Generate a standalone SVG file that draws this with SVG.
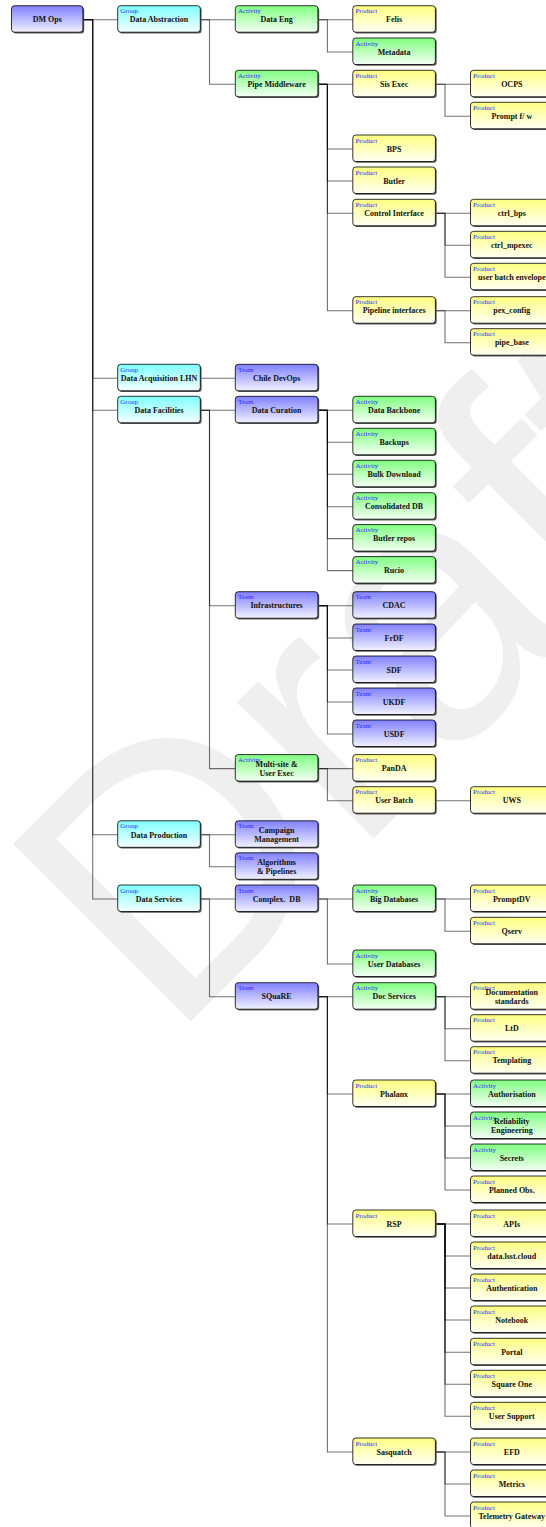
<svg xmlns="http://www.w3.org/2000/svg" width="546" height="1527" viewBox="0 0 546 1527">
<defs>
<linearGradient id="gT" x1="0" y1="0" x2="0" y2="1"><stop offset="0" stop-color="#7f7fff"/><stop offset="1" stop-color="#f2f2ff"/></linearGradient>
<linearGradient id="gG" x1="0" y1="0" x2="0" y2="1"><stop offset="0" stop-color="#80ffff"/><stop offset="1" stop-color="#f4ffff"/></linearGradient>
<linearGradient id="gA" x1="0" y1="0" x2="0" y2="1"><stop offset="0" stop-color="#80ff80"/><stop offset="1" stop-color="#f4fff4"/></linearGradient>
<linearGradient id="gP" x1="0" y1="0" x2="0" y2="1"><stop offset="0" stop-color="#ffff80"/><stop offset="1" stop-color="#fffff4"/></linearGradient>
</defs>
<style>
.sh{fill:#5a5a5a}
.bx{stroke:#000;stroke-width:0.8}
.T{fill:url(#gT)} .G{fill:url(#gG)} .A{fill:url(#gA)} .P{fill:url(#gP)}
.t{font-family:"Liberation Serif","Times New Roman",serif;font-size:7px;fill:#2b2bff}
.l{font-family:"Liberation Serif","Times New Roman",serif;font-weight:bold;font-size:8px;fill:#111;text-anchor:middle}
.e{fill:none;stroke:#000;stroke-opacity:0.55;stroke-width:1.1}
.wm{font-family:"Liberation Sans",Arial,sans-serif;font-size:365px;fill:#efefef}
</style>
<text class="wm" transform="translate(169.5,1042.5) rotate(-45)">Draft</text>
<g id="connectors">
<path class="e" d="M83,19.7H92.7V19.7H117.7"/>
<path class="e" d="M83,19.7H92.7V378.3H117.7"/>
<path class="e" d="M83,19.7H92.7V410.3H117.7"/>
<path class="e" d="M83,19.7H92.7V834.8H117.7"/>
<path class="e" d="M83,19.7H92.7V899H117.7"/>
<path class="e" d="M200.3,19.7H209.5V19.7H235.3"/>
<path class="e" d="M200.3,19.7H209.5V84.3H235.3"/>
<path class="e" d="M200.3,378.3H209.5V378.3H235.3"/>
<path class="e" d="M200.3,410.3H209.5V410.3H235.3"/>
<path class="e" d="M200.3,410.3H209.5V605.7H235.3"/>
<path class="e" d="M200.3,410.3H209.5V768.6H235.3"/>
<path class="e" d="M200.3,834.8H209.5V834.8H235.3"/>
<path class="e" d="M200.3,834.8H209.5V866.8H235.3"/>
<path class="e" d="M200.3,899H209.5V899H235.3"/>
<path class="e" d="M200.3,899H209.5V996.7H235.3"/>
<path class="e" d="M318,19.7H327.4V19.7H352.8"/>
<path class="e" d="M318,19.7H327.4V52H352.8"/>
<path class="e" d="M318,84.3H327.4V84.3H352.8"/>
<path class="e" d="M318,84.3H327.4V149H352.8"/>
<path class="e" d="M318,84.3H327.4V181H352.8"/>
<path class="e" d="M318,84.3H327.4V213.3H352.8"/>
<path class="e" d="M318,84.3H327.4V310.7H352.8"/>
<path class="e" d="M318,410.3H327.4V410.3H352.8"/>
<path class="e" d="M318,410.3H327.4V442.3H352.8"/>
<path class="e" d="M318,410.3H327.4V474.3H352.8"/>
<path class="e" d="M318,410.3H327.4V506.7H352.8"/>
<path class="e" d="M318,410.3H327.4V538.6H352.8"/>
<path class="e" d="M318,410.3H327.4V570.6H352.8"/>
<path class="e" d="M318,605.7H327.4V605.7H352.8"/>
<path class="e" d="M318,605.7H327.4V638H352.8"/>
<path class="e" d="M318,605.7H327.4V670H352.8"/>
<path class="e" d="M318,605.7H327.4V702H352.8"/>
<path class="e" d="M318,605.7H327.4V734H352.8"/>
<path class="e" d="M318,768.6H327.4V768.6H352.8"/>
<path class="e" d="M318,768.6H327.4V800.7H352.8"/>
<path class="e" d="M318,899H327.4V899H352.8"/>
<path class="e" d="M318,899H327.4V964H352.8"/>
<path class="e" d="M318,996.7H327.4V996.7H352.8"/>
<path class="e" d="M318,996.7H327.4V1094H352.8"/>
<path class="e" d="M318,996.7H327.4V1224H352.8"/>
<path class="e" d="M318,996.7H327.4V1452H352.8"/>
<path class="e" d="M435.4,84.3H445V84.3H470.5"/>
<path class="e" d="M435.4,84.3H445V116.3H470.5"/>
<path class="e" d="M435.4,213.3H445V213.3H470.5"/>
<path class="e" d="M435.4,213.3H445V245.3H470.5"/>
<path class="e" d="M435.4,213.3H445V277.3H470.5"/>
<path class="e" d="M435.4,310.7H445V310.7H470.5"/>
<path class="e" d="M435.4,310.7H445V342.7H470.5"/>
<path class="e" d="M435.4,800.7H445V800.7H470.5"/>
<path class="e" d="M435.4,899H445V899H470.5"/>
<path class="e" d="M435.4,899H445V931.3H470.5"/>
<path class="e" d="M435.4,996.7H445V996.7H470.5"/>
<path class="e" d="M435.4,996.7H445V1028.7H470.5"/>
<path class="e" d="M435.4,996.7H445V1060.7H470.5"/>
<path class="e" d="M435.4,1094H445V1094H470.5"/>
<path class="e" d="M435.4,1094H445V1126H470.5"/>
<path class="e" d="M435.4,1094H445V1158H470.5"/>
<path class="e" d="M435.4,1094H445V1190H470.5"/>
<path class="e" d="M435.4,1224H445V1224H470.5"/>
<path class="e" d="M435.4,1224H445V1256H470.5"/>
<path class="e" d="M435.4,1224H445V1288H470.5"/>
<path class="e" d="M435.4,1224H445V1320H470.5"/>
<path class="e" d="M435.4,1224H445V1352.3H470.5"/>
<path class="e" d="M435.4,1224H445V1384.3H470.5"/>
<path class="e" d="M435.4,1224H445V1416.3H470.5"/>
<path class="e" d="M435.4,1452H445V1452H470.5"/>
<path class="e" d="M435.4,1452H445V1484H470.5"/>
<path class="e" d="M435.4,1452H445V1516H470.5"/>
</g>
<g id="n-dmops"><rect class="sh" x="12.8" y="7" width="71.4" height="26.5" rx="3"/><rect class="bx T" x="11.5" y="5.7" width="71.4" height="26.5" rx="3"/><text class="l" x="47.2" y="22.4">DM Ops</text></g>
<g id="n-data-abstraction"><rect class="sh" x="119" y="7" width="82.6" height="26.5" rx="3"/><rect class="bx G" x="117.7" y="5.7" width="82.6" height="26.5" rx="3"/><text class="t" x="120.3" y="13.2">Group</text><text class="l" x="159" y="22.4">Data Abstraction</text></g>
<g id="n-data-eng"><rect class="sh" x="236.6" y="7" width="82.6" height="26.5" rx="3"/><rect class="bx A" x="235.3" y="5.7" width="82.6" height="26.5" rx="3"/><text class="t" x="237.9" y="13.2">Activity</text><text class="l" x="276.6" y="22.4">Data Eng</text></g>
<g id="n-felis"><rect class="sh" x="354.1" y="7" width="82.6" height="26.5" rx="3"/><rect class="bx P" x="352.8" y="5.7" width="82.6" height="26.5" rx="3"/><text class="t" x="355.4" y="13.2">Product</text><text class="l" x="394.1" y="22.4">Felis</text></g>
<g id="n-metadata"><rect class="sh" x="354.1" y="39.3" width="82.6" height="26.5" rx="3"/><rect class="bx A" x="352.8" y="38" width="82.6" height="26.5" rx="3"/><text class="t" x="355.4" y="45.5">Activity</text><text class="l" x="394.1" y="54.7">Metadata</text></g>
<g id="n-pipe-middleware"><rect class="sh" x="236.6" y="71.6" width="82.6" height="26.5" rx="3"/><rect class="bx A" x="235.3" y="70.3" width="82.6" height="26.5" rx="3"/><text class="t" x="237.9" y="77.8">Activity</text><text class="l" x="276.6" y="87">Pipe Middleware</text></g>
<g id="n-sis-exec"><rect class="sh" x="354.1" y="71.6" width="82.6" height="26.5" rx="3"/><rect class="bx P" x="352.8" y="70.3" width="82.6" height="26.5" rx="3"/><text class="t" x="355.4" y="77.8">Product</text><text class="l" x="394.1" y="87">Sis Exec</text></g>
<g id="n-ocps"><rect class="sh" x="471.8" y="71.6" width="82.6" height="26.5" rx="3"/><rect class="bx P" x="470.5" y="70.3" width="82.6" height="26.5" rx="3"/><text class="t" x="473.1" y="77.8">Product</text><text class="l" x="511.8" y="87">OCPS</text></g>
<g id="n-prompt-fw"><rect class="sh" x="471.8" y="103.6" width="82.6" height="26.5" rx="3"/><rect class="bx P" x="470.5" y="102.3" width="82.6" height="26.5" rx="3"/><text class="t" x="473.1" y="109.8">Product</text><text class="l" x="511.8" y="119">Prompt f/ w</text></g>
<g id="n-bps"><rect class="sh" x="354.1" y="136.3" width="82.6" height="26.5" rx="3"/><rect class="bx P" x="352.8" y="135" width="82.6" height="26.5" rx="3"/><text class="t" x="355.4" y="142.5">Product</text><text class="l" x="394.1" y="151.7">BPS</text></g>
<g id="n-butler"><rect class="sh" x="354.1" y="168.3" width="82.6" height="26.5" rx="3"/><rect class="bx P" x="352.8" y="167" width="82.6" height="26.5" rx="3"/><text class="t" x="355.4" y="174.5">Product</text><text class="l" x="394.1" y="183.7">Butler</text></g>
<g id="n-control-interface"><rect class="sh" x="354.1" y="200.6" width="82.6" height="26.5" rx="3"/><rect class="bx P" x="352.8" y="199.3" width="82.6" height="26.5" rx="3"/><text class="t" x="355.4" y="206.8">Product</text><text class="l" x="394.1" y="216">Control Interface</text></g>
<g id="n-ctrl-bps"><rect class="sh" x="471.8" y="200.6" width="82.6" height="26.5" rx="3"/><rect class="bx P" x="470.5" y="199.3" width="82.6" height="26.5" rx="3"/><text class="t" x="473.1" y="206.8">Product</text><text class="l" x="511.8" y="216">ctrl_bps</text></g>
<g id="n-ctrl-mpexec"><rect class="sh" x="471.8" y="232.6" width="82.6" height="26.5" rx="3"/><rect class="bx P" x="470.5" y="231.3" width="82.6" height="26.5" rx="3"/><text class="t" x="473.1" y="238.8">Product</text><text class="l" x="511.8" y="248">ctrl_mpexec</text></g>
<g id="n-user-batch-envelope"><rect class="sh" x="471.8" y="264.6" width="82.6" height="26.5" rx="3"/><rect class="bx P" x="470.5" y="263.3" width="82.6" height="26.5" rx="3"/><text class="t" x="473.1" y="270.8">Product</text><text class="l" x="511.8" y="280">user batch envelope</text></g>
<g id="n-pipeline-interfaces"><rect class="sh" x="354.1" y="298" width="82.6" height="26.5" rx="3"/><rect class="bx P" x="352.8" y="296.7" width="82.6" height="26.5" rx="3"/><text class="t" x="355.4" y="304.2">Product</text><text class="l" x="394.1" y="313.4">Pipeline interfaces</text></g>
<g id="n-pex-config"><rect class="sh" x="471.8" y="298" width="82.6" height="26.5" rx="3"/><rect class="bx P" x="470.5" y="296.7" width="82.6" height="26.5" rx="3"/><text class="t" x="473.1" y="304.2">Product</text><text class="l" x="511.8" y="313.4">pex_config</text></g>
<g id="n-pipe-base"><rect class="sh" x="471.8" y="330" width="82.6" height="26.5" rx="3"/><rect class="bx P" x="470.5" y="328.7" width="82.6" height="26.5" rx="3"/><text class="t" x="473.1" y="336.2">Product</text><text class="l" x="511.8" y="345.4">pipe_base</text></g>
<g id="n-data-acquisition"><rect class="sh" x="119" y="365.6" width="82.6" height="26.5" rx="3"/><rect class="bx G" x="117.7" y="364.3" width="82.6" height="26.5" rx="3"/><text class="t" x="120.3" y="371.8">Group</text><text class="l" x="159" y="381">Data Acquisition LHN</text></g>
<g id="n-chile-devops"><rect class="sh" x="236.6" y="365.6" width="82.6" height="26.5" rx="3"/><rect class="bx T" x="235.3" y="364.3" width="82.6" height="26.5" rx="3"/><text class="t" x="237.9" y="371.8">Team</text><text class="l" x="276.6" y="381">Chile DevOps</text></g>
<g id="n-data-facilities"><rect class="sh" x="119" y="397.6" width="82.6" height="26.5" rx="3"/><rect class="bx G" x="117.7" y="396.3" width="82.6" height="26.5" rx="3"/><text class="t" x="120.3" y="403.8">Group</text><text class="l" x="159" y="413">Data Facilities</text></g>
<g id="n-data-curation"><rect class="sh" x="236.6" y="397.6" width="82.6" height="26.5" rx="3"/><rect class="bx T" x="235.3" y="396.3" width="82.6" height="26.5" rx="3"/><text class="t" x="237.9" y="403.8">Team</text><text class="l" x="276.6" y="413">Data Curation</text></g>
<g id="n-data-backbone"><rect class="sh" x="354.1" y="397.6" width="82.6" height="26.5" rx="3"/><rect class="bx A" x="352.8" y="396.3" width="82.6" height="26.5" rx="3"/><text class="t" x="355.4" y="403.8">Activity</text><text class="l" x="394.1" y="413">Data Backbone</text></g>
<g id="n-backups"><rect class="sh" x="354.1" y="429.6" width="82.6" height="26.5" rx="3"/><rect class="bx A" x="352.8" y="428.3" width="82.6" height="26.5" rx="3"/><text class="t" x="355.4" y="435.8">Activity</text><text class="l" x="394.1" y="445">Backups</text></g>
<g id="n-bulk-download"><rect class="sh" x="354.1" y="461.6" width="82.6" height="26.5" rx="3"/><rect class="bx A" x="352.8" y="460.3" width="82.6" height="26.5" rx="3"/><text class="t" x="355.4" y="467.8">Activity</text><text class="l" x="394.1" y="477">Bulk Download</text></g>
<g id="n-consolidated-db"><rect class="sh" x="354.1" y="494" width="82.6" height="26.5" rx="3"/><rect class="bx A" x="352.8" y="492.7" width="82.6" height="26.5" rx="3"/><text class="t" x="355.4" y="500.2">Activity</text><text class="l" x="394.1" y="509.4">Consolidated DB</text></g>
<g id="n-butler-repos"><rect class="sh" x="354.1" y="525.9" width="82.6" height="26.5" rx="3"/><rect class="bx A" x="352.8" y="524.6" width="82.6" height="26.5" rx="3"/><text class="t" x="355.4" y="532.1">Activity</text><text class="l" x="394.1" y="541.3">Butler repos</text></g>
<g id="n-rucio"><rect class="sh" x="354.1" y="557.9" width="82.6" height="26.5" rx="3"/><rect class="bx A" x="352.8" y="556.6" width="82.6" height="26.5" rx="3"/><text class="t" x="355.4" y="564.1">Activity</text><text class="l" x="394.1" y="573.3">Rucio</text></g>
<g id="n-infrastructures"><rect class="sh" x="236.6" y="593" width="82.6" height="26.5" rx="3"/><rect class="bx T" x="235.3" y="591.7" width="82.6" height="26.5" rx="3"/><text class="t" x="237.9" y="599.2">Team</text><text class="l" x="276.6" y="608.4">Infrastructures</text></g>
<g id="n-cdac"><rect class="sh" x="354.1" y="593" width="82.6" height="26.5" rx="3"/><rect class="bx T" x="352.8" y="591.7" width="82.6" height="26.5" rx="3"/><text class="t" x="355.4" y="599.2">Team</text><text class="l" x="394.1" y="608.4">CDAC</text></g>
<g id="n-frdf"><rect class="sh" x="354.1" y="625.3" width="82.6" height="26.5" rx="3"/><rect class="bx T" x="352.8" y="624" width="82.6" height="26.5" rx="3"/><text class="t" x="355.4" y="631.5">Team</text><text class="l" x="394.1" y="640.7">FrDF</text></g>
<g id="n-sdf"><rect class="sh" x="354.1" y="657.3" width="82.6" height="26.5" rx="3"/><rect class="bx T" x="352.8" y="656" width="82.6" height="26.5" rx="3"/><text class="t" x="355.4" y="663.5">Team</text><text class="l" x="394.1" y="672.7">SDF</text></g>
<g id="n-ukdf"><rect class="sh" x="354.1" y="689.3" width="82.6" height="26.5" rx="3"/><rect class="bx T" x="352.8" y="688" width="82.6" height="26.5" rx="3"/><text class="t" x="355.4" y="695.5">Team</text><text class="l" x="394.1" y="704.7">UKDF</text></g>
<g id="n-usdf"><rect class="sh" x="354.1" y="721.3" width="82.6" height="26.5" rx="3"/><rect class="bx T" x="352.8" y="720" width="82.6" height="26.5" rx="3"/><text class="t" x="355.4" y="727.5">Team</text><text class="l" x="394.1" y="736.7">USDF</text></g>
<g id="n-multi-site"><rect class="sh" x="236.6" y="755.9" width="82.6" height="26.5" rx="3"/><rect class="bx A" x="235.3" y="754.6" width="82.6" height="26.5" rx="3"/><text class="t" x="237.9" y="762.1">Activity</text><text class="l" x="276.6" y="766.6">Multi-site &amp;</text><text class="l" x="276.6" y="775.6">User Exec</text></g>
<g id="n-panda"><rect class="sh" x="354.1" y="755.9" width="82.6" height="26.5" rx="3"/><rect class="bx P" x="352.8" y="754.6" width="82.6" height="26.5" rx="3"/><text class="t" x="355.4" y="762.1">Product</text><text class="l" x="394.1" y="771.3">PanDA</text></g>
<g id="n-user-batch"><rect class="sh" x="354.1" y="788" width="82.6" height="26.5" rx="3"/><rect class="bx P" x="352.8" y="786.7" width="82.6" height="26.5" rx="3"/><text class="t" x="355.4" y="794.2">Product</text><text class="l" x="394.1" y="803.4">User Batch</text></g>
<g id="n-uws"><rect class="sh" x="471.8" y="788" width="82.6" height="26.5" rx="3"/><rect class="bx P" x="470.5" y="786.7" width="82.6" height="26.5" rx="3"/><text class="t" x="473.1" y="794.2">Product</text><text class="l" x="511.8" y="803.4">UWS</text></g>
<g id="n-data-production"><rect class="sh" x="119" y="822.1" width="82.6" height="26.5" rx="3"/><rect class="bx G" x="117.7" y="820.8" width="82.6" height="26.5" rx="3"/><text class="t" x="120.3" y="828.3">Group</text><text class="l" x="159" y="837.5">Data Production</text></g>
<g id="n-campaign"><rect class="sh" x="236.6" y="822.1" width="82.6" height="26.5" rx="3"/><rect class="bx T" x="235.3" y="820.8" width="82.6" height="26.5" rx="3"/><text class="t" x="237.9" y="828.3">Team</text><text class="l" x="276.6" y="832.8">Campaign</text><text class="l" x="276.6" y="841.8">Management</text></g>
<g id="n-algorithms"><rect class="sh" x="236.6" y="854.1" width="82.6" height="26.5" rx="3"/><rect class="bx T" x="235.3" y="852.8" width="82.6" height="26.5" rx="3"/><text class="t" x="237.9" y="860.3">Team</text><text class="l" x="276.6" y="864.8">Algorithms</text><text class="l" x="276.6" y="873.8">&amp; Pipelines</text></g>
<g id="n-data-services"><rect class="sh" x="119" y="886.3" width="82.6" height="26.5" rx="3"/><rect class="bx G" x="117.7" y="885" width="82.6" height="26.5" rx="3"/><text class="t" x="120.3" y="892.5">Group</text><text class="l" x="159" y="901.7">Data Services</text></g>
<g id="n-complex-db"><rect class="sh" x="236.6" y="886.3" width="82.6" height="26.5" rx="3"/><rect class="bx T" x="235.3" y="885" width="82.6" height="26.5" rx="3"/><text class="t" x="237.9" y="892.5">Team</text><text class="l" x="276.6" y="901.7" xml:space="preserve">Complex.  DB</text></g>
<g id="n-big-databases"><rect class="sh" x="354.1" y="886.3" width="82.6" height="26.5" rx="3"/><rect class="bx A" x="352.8" y="885" width="82.6" height="26.5" rx="3"/><text class="t" x="355.4" y="892.5">Activity</text><text class="l" x="394.1" y="901.7">Big Databases</text></g>
<g id="n-promptdv"><rect class="sh" x="471.8" y="886.3" width="82.6" height="26.5" rx="3"/><rect class="bx P" x="470.5" y="885" width="82.6" height="26.5" rx="3"/><text class="t" x="473.1" y="892.5">Product</text><text class="l" x="511.8" y="901.7">PromptDV</text></g>
<g id="n-qserv"><rect class="sh" x="471.8" y="918.6" width="82.6" height="26.5" rx="3"/><rect class="bx P" x="470.5" y="917.3" width="82.6" height="26.5" rx="3"/><text class="t" x="473.1" y="924.8">Product</text><text class="l" x="511.8" y="934">Qserv</text></g>
<g id="n-user-databases"><rect class="sh" x="354.1" y="951.3" width="82.6" height="26.5" rx="3"/><rect class="bx A" x="352.8" y="950" width="82.6" height="26.5" rx="3"/><text class="t" x="355.4" y="957.5">Activity</text><text class="l" x="394.1" y="966.7">User Databases</text></g>
<g id="n-square"><rect class="sh" x="236.6" y="984" width="82.6" height="26.5" rx="3"/><rect class="bx T" x="235.3" y="982.7" width="82.6" height="26.5" rx="3"/><text class="t" x="237.9" y="990.2">Team</text><text class="l" x="276.6" y="999.4">SQuaRE</text></g>
<g id="n-doc-services"><rect class="sh" x="354.1" y="984" width="82.6" height="26.5" rx="3"/><rect class="bx A" x="352.8" y="982.7" width="82.6" height="26.5" rx="3"/><text class="t" x="355.4" y="990.2">Activity</text><text class="l" x="394.1" y="999.4">Doc Services</text></g>
<g id="n-doc-standards"><rect class="sh" x="471.8" y="984" width="82.6" height="26.5" rx="3"/><rect class="bx P" x="470.5" y="982.7" width="82.6" height="26.5" rx="3"/><text class="t" x="473.1" y="990.2">Product</text><text class="l" x="511.8" y="994.9">Documentation</text><text class="l" x="511.8" y="1003.6">standards</text></g>
<g id="n-ltd"><rect class="sh" x="471.8" y="1016" width="82.6" height="26.5" rx="3"/><rect class="bx P" x="470.5" y="1014.7" width="82.6" height="26.5" rx="3"/><text class="t" x="473.1" y="1022.2">Product</text><text class="l" x="511.8" y="1031.4">LtD</text></g>
<g id="n-templating"><rect class="sh" x="471.8" y="1048" width="82.6" height="26.5" rx="3"/><rect class="bx P" x="470.5" y="1046.7" width="82.6" height="26.5" rx="3"/><text class="t" x="473.1" y="1054.2">Product</text><text class="l" x="511.8" y="1063.4">Templating</text></g>
<g id="n-phalanx"><rect class="sh" x="354.1" y="1081.3" width="82.6" height="26.5" rx="3"/><rect class="bx P" x="352.8" y="1080" width="82.6" height="26.5" rx="3"/><text class="t" x="355.4" y="1087.5">Product</text><text class="l" x="394.1" y="1096.7">Phalanx</text></g>
<g id="n-authorisation"><rect class="sh" x="471.8" y="1081.3" width="82.6" height="26.5" rx="3"/><rect class="bx A" x="470.5" y="1080" width="82.6" height="26.5" rx="3"/><text class="t" x="473.1" y="1087.5">Activity</text><text class="l" x="511.8" y="1096.7">Authorisation</text></g>
<g id="n-reliability"><rect class="sh" x="471.8" y="1113.3" width="82.6" height="26.5" rx="3"/><rect class="bx A" x="470.5" y="1112" width="82.6" height="26.5" rx="3"/><text class="t" x="473.1" y="1119.5">Activity</text><text class="l" x="511.8" y="1123.6">Reliability</text><text class="l" x="511.8" y="1133">Engineering</text></g>
<g id="n-secrets"><rect class="sh" x="471.8" y="1145.3" width="82.6" height="26.5" rx="3"/><rect class="bx A" x="470.5" y="1144" width="82.6" height="26.5" rx="3"/><text class="t" x="473.1" y="1151.5">Activity</text><text class="l" x="511.8" y="1160.7">Secrets</text></g>
<g id="n-planned-obs"><rect class="sh" x="471.8" y="1177.3" width="82.6" height="26.5" rx="3"/><rect class="bx P" x="470.5" y="1176" width="82.6" height="26.5" rx="3"/><text class="t" x="473.1" y="1183.5">Product</text><text class="l" x="511.8" y="1192.7">Planned Obs.</text></g>
<g id="n-rsp"><rect class="sh" x="354.1" y="1211.3" width="82.6" height="26.5" rx="3"/><rect class="bx P" x="352.8" y="1210" width="82.6" height="26.5" rx="3"/><text class="t" x="355.4" y="1217.5">Product</text><text class="l" x="394.1" y="1226.7">RSP</text></g>
<g id="n-apis"><rect class="sh" x="471.8" y="1211.3" width="82.6" height="26.5" rx="3"/><rect class="bx P" x="470.5" y="1210" width="82.6" height="26.5" rx="3"/><text class="t" x="473.1" y="1217.5">Product</text><text class="l" x="511.8" y="1226.7">APIs</text></g>
<g id="n-data-lsst-cloud"><rect class="sh" x="471.8" y="1243.3" width="82.6" height="26.5" rx="3"/><rect class="bx P" x="470.5" y="1242" width="82.6" height="26.5" rx="3"/><text class="t" x="473.1" y="1249.5">Product</text><text class="l" x="511.8" y="1258.7">data.lsst.cloud</text></g>
<g id="n-authentication"><rect class="sh" x="471.8" y="1275.3" width="82.6" height="26.5" rx="3"/><rect class="bx P" x="470.5" y="1274" width="82.6" height="26.5" rx="3"/><text class="t" x="473.1" y="1281.5">Product</text><text class="l" x="511.8" y="1290.7">Authentication</text></g>
<g id="n-notebook"><rect class="sh" x="471.8" y="1307.3" width="82.6" height="26.5" rx="3"/><rect class="bx P" x="470.5" y="1306" width="82.6" height="26.5" rx="3"/><text class="t" x="473.1" y="1313.5">Product</text><text class="l" x="511.8" y="1322.7">Notebook</text></g>
<g id="n-portal"><rect class="sh" x="471.8" y="1339.6" width="82.6" height="26.5" rx="3"/><rect class="bx P" x="470.5" y="1338.3" width="82.6" height="26.5" rx="3"/><text class="t" x="473.1" y="1345.8">Product</text><text class="l" x="511.8" y="1355">Portal</text></g>
<g id="n-square-one"><rect class="sh" x="471.8" y="1371.6" width="82.6" height="26.5" rx="3"/><rect class="bx P" x="470.5" y="1370.3" width="82.6" height="26.5" rx="3"/><text class="t" x="473.1" y="1377.8">Product</text><text class="l" x="511.8" y="1387">Square One</text></g>
<g id="n-user-support"><rect class="sh" x="471.8" y="1403.6" width="82.6" height="26.5" rx="3"/><rect class="bx P" x="470.5" y="1402.3" width="82.6" height="26.5" rx="3"/><text class="t" x="473.1" y="1409.8">Product</text><text class="l" x="511.8" y="1419">User Support</text></g>
<g id="n-sasquatch"><rect class="sh" x="354.1" y="1439.3" width="82.6" height="26.5" rx="3"/><rect class="bx P" x="352.8" y="1438" width="82.6" height="26.5" rx="3"/><text class="t" x="355.4" y="1445.5">Product</text><text class="l" x="394.1" y="1454.7">Sasquatch</text></g>
<g id="n-efd"><rect class="sh" x="471.8" y="1439.3" width="82.6" height="26.5" rx="3"/><rect class="bx P" x="470.5" y="1438" width="82.6" height="26.5" rx="3"/><text class="t" x="473.1" y="1445.5">Product</text><text class="l" x="511.8" y="1454.7">EFD</text></g>
<g id="n-metrics"><rect class="sh" x="471.8" y="1471.3" width="82.6" height="26.5" rx="3"/><rect class="bx P" x="470.5" y="1470" width="82.6" height="26.5" rx="3"/><text class="t" x="473.1" y="1477.5">Product</text><text class="l" x="511.8" y="1486.7">Metrics</text></g>
<g id="n-telemetry-gateway"><rect class="sh" x="471.8" y="1503.3" width="82.6" height="26.5" rx="3"/><rect class="bx P" x="470.5" y="1502" width="82.6" height="26.5" rx="3"/><text class="t" x="473.1" y="1509.5">Product</text><text class="l" x="511.8" y="1518.7">Telemetry Gateway</text></g>
</svg>
